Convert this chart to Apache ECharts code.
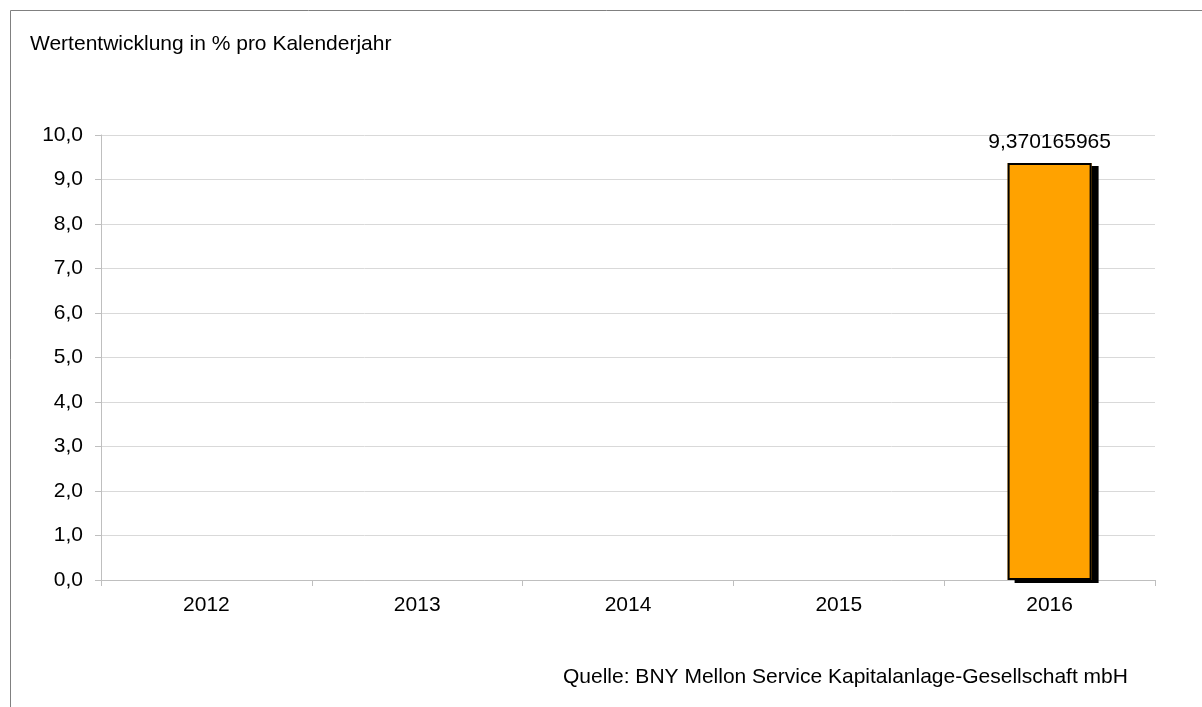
<!DOCTYPE html>
<html>
<head>
<meta charset="utf-8">
<script src="https://cdn.jsdelivr.net/npm/echarts@6/dist/echarts.min.js"></script>
<style>
html,body{margin:0;padding:0;background:#fff}
#chart{width:1202px;height:707px}
</style>
</head>
<body>
<div id="chart"></div>
<script>
// Kalenderjahre
let years = ['2012', '2013', '2014', '2015', '2016']
// Wertentwicklung in %
let performance = [null, null, null, null, 9.370165965]
let yTicks = [0, 1, 2, 3, 4, 5, 6, 7, 8, 9, 10]

let chart = echarts.init(document.getElementById('chart'))
let font = 'Liberation Sans, Arial, sans-serif'
let fs = 21

let option = {
    animation: false,
    graphic: [{
        type: 'rect',
        shape: {x: 10.5, y: 10.5, width: 1200, height: 710},
        style: {fill: 'none', stroke: '#808080', lineWidth: 1},
        silent: true
    }, {
        type: 'text',
        left: 30,
        top: 34,
        style: {text: 'Wertentwicklung in % pro Kalenderjahr', fill: '#000', font: fs + 'px ' + font}
    }, {
        type: 'text',
        left: 563,
        top: 667,
        style: {text: 'Quelle: BNY Mellon Service Kapitalanlage-Gesellschaft mbH', fill: '#000', font: fs + 'px ' + font}
    }],
    grid: {left: 101, right: 47, top: 135, bottom: 127},
    xAxis: {
        type: 'category',
        data: years,
        axisLine: {lineStyle: {color: '#bfbfbf', width: 1}},
        axisTick: {show: true, length: 6, lineStyle: {color: '#bfbfbf'}},
        axisLabel: {color: '#000', fontSize: fs, fontFamily: font, margin: 15}
    },
    yAxis: {
        type: 'value',
        min: yTicks[0],
        max: yTicks[yTicks.length - 1],
        interval: 1,
        axisLine: {show: true, lineStyle: {color: '#bfbfbf', width: 1}},
        axisTick: {show: true, length: 6, lineStyle: {color: '#bfbfbf'}},
        splitLine: {lineStyle: {color: '#d9d9d9', width: 1}},
        axisLabel: {
            color: '#000', fontSize: fs, fontFamily: font, margin: 18,
            formatter: v => v.toFixed(1).replace('.', ',')
        }
    },
    series: [{
        // Füllung mit Schatten
        type: 'bar',
        data: performance,
        barWidth: 84,
        z: 2,
        itemStyle: {
            color: '#ffa200',
            shadowColor: '#000',
            shadowBlur: 0,
            shadowOffsetX: 7,
            shadowOffsetY: 3
        }
    }, {
        // Rahmen
        type: 'bar',
        data: performance,
        barWidth: 84,
        barGap: '-100%',
        z: 3,
        itemStyle: {
            color: 'rgba(0,0,0,0)',
            borderColor: '#000',
            borderWidth: 2
        },
        label: {
            show: true,
            position: 'top',
            distance: 10,
            color: '#000',
            fontSize: fs,
            fontFamily: font,
            formatter: p => String(p.value).replace('.', ',')
        }
    }]
}
chart.setOption(option)
</script>
</body>
</html>
